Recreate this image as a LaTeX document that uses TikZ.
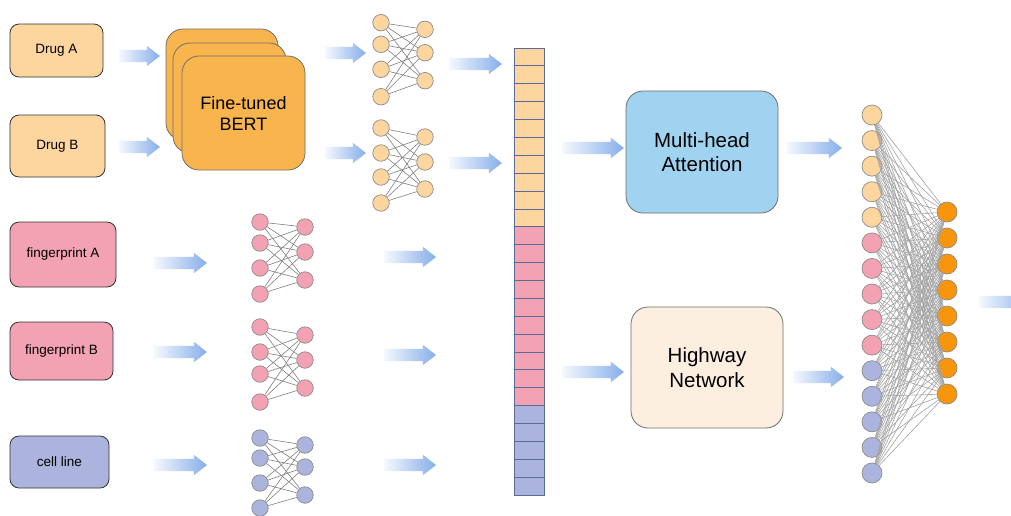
\documentclass[tikz,border=0pt]{standalone}
\usepackage{fontspec}
\setmainfont{Liberation Sans}
\usetikzlibrary{shapes.arrows}

\definecolor{drugfill}{HTML}{FDD59F}
\definecolor{fpfill}{HTML}{F2A2B2}
\definecolor{cellfill}{HTML}{AAB4DC}
\definecolor{bertfill}{HTML}{F8B54E}
\definecolor{attnfill}{HTML}{9FD3EF}
\definecolor{hwfill}{HTML}{FDEFDF}
\definecolor{outfill}{HTML}{F7960D}
\definecolor{boxline}{HTML}{333333}
\definecolor{softline}{HTML}{6E6E6E}
\definecolor{neuronline}{HTML}{8C8C8C}
\definecolor{vecline}{HTML}{5A6B9A}
\definecolor{flowblue}{HTML}{86AEEA}

\tikzset{
  inbox/.style={draw=boxline, rounded corners=9pt, line width=0.8pt, inner sep=0pt,
    font=\fontsize{13.5}{16}\selectfont},
  bigbox/.style={draw=softline, rounded corners=17pt, line width=0.8pt, inner sep=0pt,
    align=center, font=\fontsize{20.5}{24.5}\selectfont},
  bertcard/.style={draw=softline, rounded corners=17pt, line width=0.8pt, fill=bertfill,
    inner sep=0pt, align=center, font=\fontsize{18}{21}\selectfont},
  flow/.style={single arrow, single arrow head extend=4pt, single arrow tip angle=76,
    inner sep=0pt, draw=none,
    left color=flowblue!8, right color=flowblue},
  neuron/.style={circle, draw=neuronline, line width=0.7pt, inner sep=0pt, minimum size=16.5pt},
  bigneuron/.style={circle, draw=neuronline, line width=0.7pt, inner sep=0pt, minimum size=20pt},
  netedge/.style={draw=black!50, line width=0.6pt},
  denseedge/.style={draw=black!36, line width=0.6pt},
  veccell/.style={draw=vecline, line width=0.8pt, minimum width=30pt, minimum height=17.88pt,
    inner sep=0pt},
}

% shaded block arrow: name, left x, right x, y
\newcommand\flowarrow[4]{%
  \pgfmathsetmacro\fal{#3-#2}%
  \node[flow, minimum height=\fal pt] (#1) at ({(#2+#3)/2},#4) {\rule{0pt}{12pt}};}

% small fully connected layer: name, left x, right x, left ys, right ys, fill
\newcommand\minnet[6]{%
  \foreach \yy [count=\i] in {#4} \node[neuron, fill=#6] (#1l\i) at (#2,\yy) {};
  \foreach \yy [count=\j] in {#5} \node[neuron, fill=#6] (#1r\j) at (#3,\yy) {};
  \foreach \i in {1,...,4} \foreach \j in {1,2,3} \draw[netedge] (#1l\i) -- (#1r\j);}

\begin{document}
\begin{tikzpicture}[x=1pt, y=-1pt]
\clip (0,0) rectangle (1011,515);
\fill[white] (0,0) rectangle (1011,515);

% inputs
\node[inbox, fill=drugfill, minimum width=93pt, minimum height=53pt] (drugA) at (56.5,50.5) {Drug A};
\node[inbox, fill=drugfill, minimum width=95pt, minimum height=62pt] (drugB) at (57.5,146) {Drug B};
\node[inbox, fill=fpfill, minimum width=106pt, minimum height=65pt] (fpA) at (63,254.5) {fingerprint A};
\node[inbox, fill=fpfill, minimum width=103pt, minimum height=58pt] (fpB) at (61.5,351) {fingerprint B};
\node[inbox, fill=cellfill, minimum width=99pt, minimum height=52pt] (cellline) at (59.5,462) {cell line};

% stacked BERT encoders
\node[bertcard, minimum width=112pt, minimum height=111pt] (bertback) at (222,84.5) {};
\node[bertcard, minimum width=113pt, minimum height=110pt] (bertmid) at (229.5,98) {};
\node[bertcard, minimum width=123pt, minimum height=114pt] (bert) at (243.5,113) {Fine-tuned\\BERT};

% per-input feature layers
\minnet{na}{381}{425}{22.7,44.3,69.3,96.7}{29.3,52.7,80.7}{drugfill}
\minnet{nb}{381}{425}{128,153,177,203}{137,162,189}{drugfill}
\minnet{nc}{260}{305}{222,243,268,294}{227,252,280}{fpfill}
\minnet{nd}{260}{305}{327,352,374,402}{335,360,388}{fpfill}
\minnet{ne}{260}{305}{438,458,483,508}{445,467,495}{cellfill}

% concatenated feature vector
\foreach \k in {1,...,25}{
  \pgfmathsetmacro\cy{48+17.88*(\k-0.5)}
  \ifnum\k<11 \def\cf{drugfill}\else\ifnum\k<21 \def\cf{fpfill}\else\def\cf{cellfill}\fi\fi
  \node[veccell, fill=\cf] (vec\k) at (529,\cy) {};
}

% attention and highway blocks
\node[bigbox, fill=attnfill, minimum width=152pt, minimum height=122pt] (mha) at (702,152) {Multi-head\\Attention};
\node[bigbox, fill=hwfill, minimum width=152pt, minimum height=121pt] (hw) at (707,367.5) {Highway\\Network};

% final dense layer
\foreach \i in {1,...,15}{
  \pgfmathsetmacro\ly{115+25.57*(\i-1)}
  \ifnum\i<6 \def\cf{drugfill}\else\ifnum\i<11 \def\cf{fpfill}\else\def\cf{cellfill}\fi\fi
  \node[bigneuron, fill=\cf] (in\i) at (872,\ly) {};
}
\foreach \j in {1,...,8}{
  \pgfmathsetmacro\ry{212+26*(\j-1)}
  \node[bigneuron, fill=outfill] (out\j) at (947,\ry) {};
}
\foreach \i in {1,...,15} \foreach \j in {1,...,8} \draw[denseedge] (in\i) -- (out\j);

% data flow arrows
\flowarrow{fa1}{115}{156}{56}
\flowarrow{fa2}{115}{156}{147}
\flowarrow{fa3}{321}{362}{53}
\flowarrow{fa4}{321}{362}{153}
\flowarrow{fa5}{445}{498}{64}
\flowarrow{fa6}{445}{498}{163}
\flowarrow{fa7}{150}{203}{263}
\flowarrow{fa8}{150}{203}{352}
\flowarrow{fa9}{150}{203}{465}
\flowarrow{fa10}{380}{432}{257}
\flowarrow{fa11}{380}{432}{355}
\flowarrow{fa12}{380}{432}{465}
\flowarrow{fa13}{558}{620}{148}
\flowarrow{fa14}{558}{620}{372}
\flowarrow{fa15}{783}{838}{148}
\flowarrow{fa16}{789}{840}{377}
\flowarrow{fa17}{975}{1030}{302}
\end{tikzpicture}
\end{document}
